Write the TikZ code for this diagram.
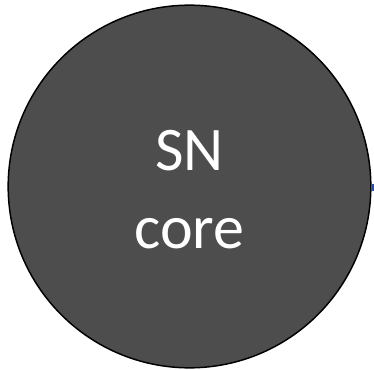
\documentclass[tikz,border=0pt]{standalone}
\usepackage{fontspec}
\setmainfont{Carlito}
\usepackage{tikz}
\definecolor{corefill}{HTML}{4D4D4D}
\definecolor{tick}{HTML}{2A4FA8}
\tikzset{
  core/.style={circle, draw=black, line width=1.1pt, fill=corefill, minimum size=272pt, inner sep=0pt},
  corelab/.style={text=white, align=center, font=\fontsize{46.5pt}{58.5pt}\selectfont}
}

\begin{document}
\begin{tikzpicture}[x=0.75pt,y=-0.75pt]
  \useasboundingbox (0,0) rectangle (374,370);

  \node[core] (sn) at (189.5,186.5) {};
  \node[corelab, anchor=base] (snlab) at (189.5,248) {SN\\core};

  % small blue mark on the right rim
  \coordinate (rim) at ([xshift=1.4pt]sn.east);
  \draw[tick, line width=1.6pt] ([yshift=-3.5pt]rim) -- ([yshift=1.5pt]rim);
\end{tikzpicture}
\end{document}
